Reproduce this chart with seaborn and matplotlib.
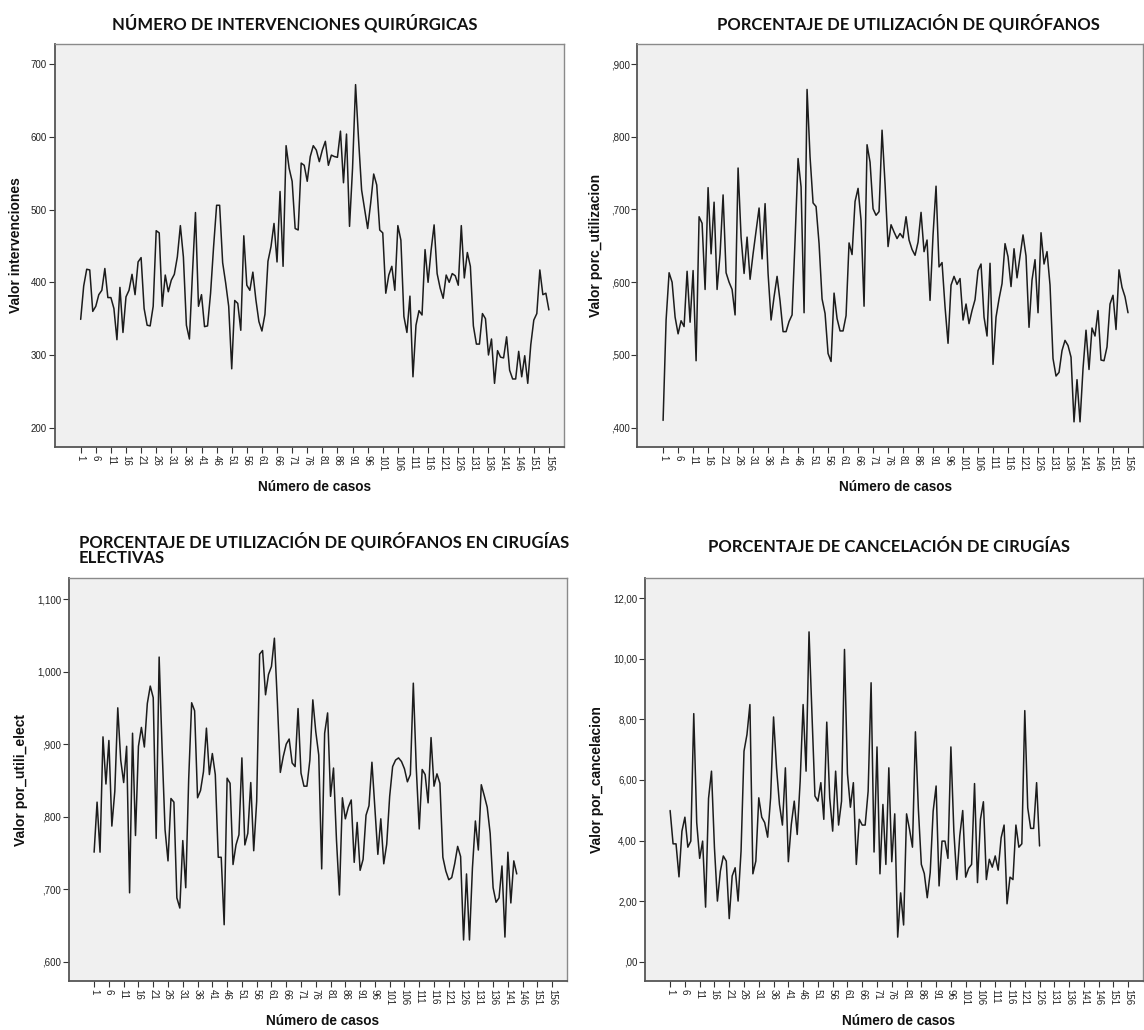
import matplotlib
matplotlib.use("Agg")
import matplotlib.pyplot as plt
import seaborn as sns
import pandas as pd

# valores (SPSS, grafico de secuencia por numero de caso)
intervenciones = [
    349, 395, 418, 417, 360, 367, 383, 389, 419, 379, 379, 364, 321, 393, 331, 380,
    389, 411, 383, 428, 434, 364, 341, 340, 367, 471, 468, 367, 410, 387, 403, 411,
    435, 478, 435, 341, 322, 412, 496, 367, 383, 339, 340, 385, 449, 506, 506, 427,
    399, 367, 281, 375, 371, 334, 464, 396, 389, 414, 376, 346, 333, 356, 429, 449,
    481, 428, 525, 422, 588, 557, 539, 474, 472, 564, 561, 539, 573, 588, 582, 566,
    582, 594, 561, 575, 573, 572, 608, 537, 604, 477, 557, 672, 596, 527, 500, 474,
    509, 549, 534, 472, 468, 385, 410, 422, 389, 478, 458, 353, 331, 381, 270, 341,
    361, 355, 445, 400, 444, 479, 412, 392, 378, 410, 400, 412, 409, 396, 478, 406,
    441, 422, 340, 315, 315, 357, 350, 300, 322, 261, 306, 297, 296, 325, 279, 267,
    267, 305, 270, 299, 261, 314, 348, 357, 417, 383, 385, 362,
]
porc_utilizacion = [
    .410, .548, .613, .600, .552, .529, .547, .539, .615, .545, .616, .492, .690, .681,
    .590, .730, .639, .710, .590, .639, .720, .613, .600, .590, .555, .757, .662, .612,
    .662, .604, .639, .671, .702, .632, .708, .612, .548, .580, .608, .574, .532, .532,
    .546, .555, .658, .770, .731, .558, .865, .772, .709, .704, .653, .577, .557, .502,
    .491, .585, .550, .533, .533, .554, .654, .638, .711, .729, .685, .567, .789, .765,
    .701, .692, .697, .809, .735, .649, .679, .669, .660, .667, .661, .690, .658, .645,
    .637, .655, .696, .642, .658, .575, .665, .732, .621, .627, .566, .516, .596, .608,
    .597, .605, .548, .570, .543, .561, .576, .616, .625, .552, .526, .626, .487, .552,
    .577, .598, .653, .635, .594, .646, .606, .635, .665, .636, .538, .603, .631, .558,
    .668, .625, .642, .596, .495, .471, .476, .506, .520, .513, .497, .408, .466, .408,
    .481, .534, .480, .537, .526, .561, .493, .492, .511, .570, .582, .535, .617, .593,
    .580, .558,
]
por_utili_elect = [
    .751, .820, .751, .910, .845, .905, .787, .835, .950, .878, .847, .897, .695, .915,
    .774, .897, .923, .896, .956, .980, .964, .770, 1.020, .894, .782, .739, .825, .820,
    .688, .674, .767, .702, .852, .957, .946, .826, .836, .862, .922, .858, .887, .858,
    .744, .744, .651, .853, .846, .734, .761, .775, .881, .761, .777, .847, .753, .821,
    1.024, 1.029, .968, .996, 1.007, 1.046, .958, .861, .883, .900, .907, .874, .869,
    .949, .860, .842, .842, .878, .961, .917, .885, .728, .915, .943, .828, .867, .768,
    .692, .826, .797, .813, .823, .737, .792, .726, .741, .802, .815, .875, .812, .748,
    .797, .735, .762, .828, .869, .878, .881, .876, .866, .848, .858, .984, .867, .783,
    .865, .858, .819, .909, .842, .859, .846, .744, .725, .713, .716, .735, .759, .745,
    .630, .721, .630, .729, .794, .754, .844, .829, .813, .777, .702, .682, .688, .732,
    .634, .751, .681, .739, .721,
]
por_cancelacion = [
    4.99, 3.89, 3.89, 2.80, 4.31, 4.77, 3.78, 3.98, 8.19, 4.59, 3.41, 3.98, 1.80, 5.39,
    6.29, 3.76, 2.00, 2.99, 3.49, 3.32, 1.42, 2.83, 3.10, 2.00, 3.65, 6.95, 7.50, 8.49,
    2.90, 3.32, 5.41, 4.77, 4.59, 4.11, 5.41, 8.08, 6.40, 5.19, 4.51, 6.40, 3.30, 4.53,
    5.30, 4.20, 5.96, 8.49, 6.29, 10.89, 8.16, 5.47, 5.30, 5.91, 4.70, 7.91, 5.41, 4.31,
    6.29, 4.51, 5.30, 10.31, 6.21, 5.10, 5.91, 3.21, 4.70, 4.51, 4.51, 5.63, 9.21, 3.62,
    7.09, 2.90, 5.19, 3.21, 6.40, 3.30, 4.88, 0.81, 2.27, 1.21, 4.88, 4.37, 3.78, 7.59,
    5.03, 3.21, 2.91, 2.11, 2.94, 4.97, 5.80, 2.50, 3.98, 3.98, 3.41, 7.09, 4.31, 2.71,
    4.15, 4.99, 2.79, 3.08, 3.21, 5.88, 2.61, 4.70, 5.28, 2.71, 3.38, 3.12, 3.49, 3.02,
    4.09, 4.51, 1.91, 2.79, 2.71, 4.51, 3.78, 3.89, 8.29, 5.08, 4.40, 4.40, 5.91, 3.82,
]

ticks_casos = list(range(1, 157, 5))

titulos = [
    "NÚMERO DE INTERVENCIONES QUIRÚRGICAS",
    "PORCENTAJE DE UTILIZACIÓN DE QUIRÓFANOS",
    "PORCENTAJE DE UTILIZACIÓN DE QUIRÓFANOS EN CIRUGÍAS\nELECTIVAS",
    "PORCENTAJE DE CANCELACIÓN DE CIRUGÍAS",
]
etiquetas_y = ["Valor intervenciones", "Valor porc_utilizacion",
               "Valor por_utili_elect", "Valor por_cancelacion"]

yticks_1 = [200, 300, 400, 500, 600, 700]
ylabels_1 = ["200", "300", "400", "500", "600", "700"]
yticks_2 = [.4, .5, .6, .7, .8, .9]
ylabels_2 = [",400", ",500", ",600", ",700", ",800", ",900"]
yticks_3 = [.6, .7, .8, .9, 1.0, 1.1]
ylabels_3 = [",600", ",700", ",800", ",900", "1,000", "1,100"]
yticks_4 = [0, 2, 4, 6, 8, 10, 12]
ylabels_4 = [",00", "2,00", "4,00", "6,00", "8,00", "10,00", "12,00"]

sns.set_theme(style="white")
plt.rcParams["font.family"] = ["Liberation Sans", "DejaVu Sans"]

W, H = 1144, 1030
fig = plt.figure(figsize=(W / 100, H / 100), dpi=100)


def caja(izq, der, arriba, abajo):
    return [izq / W, 1 - abajo / H, (der - izq) / W, (abajo - arriba) / H]


paneles = [
    dict(pos=caja(54.7, 564, 44, 447), serie=intervenciones, ylim=(173.4, 727.9),
         yt=yticks_1, yl=ylabels_1, lab_y=-0.062),
    dict(pos=caja(637.3, 1143, 44, 447.3), serie=porc_utilizacion, ylim=(.373, .9275),
         yt=yticks_2, yl=ylabels_2, lab_y=-0.068),
    dict(pos=caja(68.7, 567, 578, 981.3), serie=por_utili_elect, ylim=(.573, 1.129),
         yt=yticks_3, yl=ylabels_3, lab_y=-0.082),
    dict(pos=caja(644.7, 1143, 578, 981.3), serie=por_cancelacion, ylim=(-0.65, 12.67),
         yt=yticks_4, yl=ylabels_4, lab_y=-0.082),
]

for i, p in enumerate(paneles):
    ax = fig.add_axes(p["pos"])
    ax.set_facecolor("#f0f0f0")
    df = pd.DataFrame({"caso": range(1, len(p["serie"]) + 1), "valor": p["serie"]})
    sns.lineplot(data=df, x="caso", y="valor", ax=ax, color="#1c1c1c", linewidth=1.1)

    ax.set_xlim(-7.6, 161)
    ax.set_ylim(*p["ylim"])
    ax.set_xticks(ticks_casos)
    ax.set_xticklabels([str(t) for t in ticks_casos], rotation=-90, fontsize=7,
                       color="#222222")
    ax.set_yticks(p["yt"])
    ax.set_yticklabels(p["yl"], fontsize=7, color="#222222")
    ax.tick_params(axis="both", which="major", length=4, width=0.8, color="#333333",
                   pad=1.5, bottom=True, left=True)

    for lado in ["left", "bottom"]:
        ax.spines[lado].set_color("#555555")
        ax.spines[lado].set_linewidth(1.3)
    for lado in ["top", "right"]:
        ax.spines[lado].set_color("#8a8a8a")
        ax.spines[lado].set_linewidth(1.0)

    ax.set_ylabel(etiquetas_y[i], fontsize=10, fontweight="bold", color="#111111")
    ax.yaxis.set_label_coords(p["lab_y"], 0.5)
    ax.set_xlabel("Número de casos", fontsize=9.8, fontweight="bold", color="#111111")
    ax.xaxis.set_label_coords(0.51, -0.082)

# titulos en negrita, estilo Calibri
fuente_titulo = dict(fontsize=12, fontweight="bold", family=["Lato", "DejaVu Sans"],
                     color="#111111")
fig.text(294.5 / W, 1 - 23 / H, titulos[0], ha="center", va="center", **fuente_titulo)
fig.text(908 / W, 1 - 23 / H, titulos[1], ha="center", va="center", **fuente_titulo)
fig.text(79 / W, 1 - 549 / H, titulos[2], ha="left", va="center", linespacing=1.0,
         **fuente_titulo)
fig.text(889.5 / W, 1 - 546.7 / H, titulos[3], ha="center", va="center", **fuente_titulo)

fig.savefig("out.png", dpi=100)
